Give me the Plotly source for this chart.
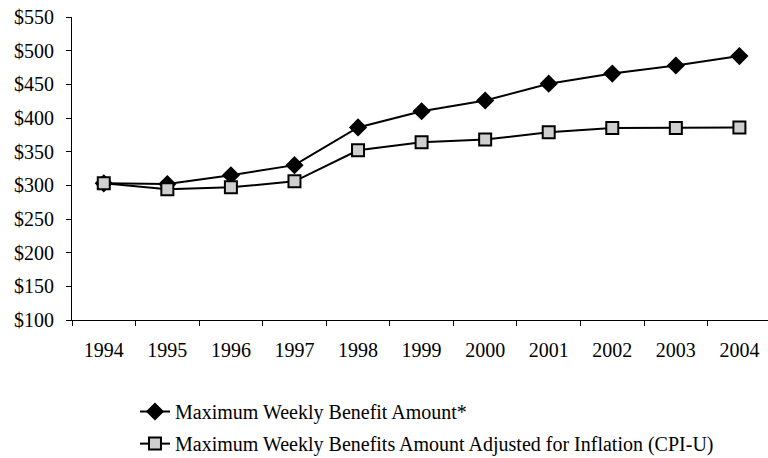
import plotly.graph_objects as go

years = ["1994", "1995", "1996", "1997", "1998", "1999", "2000", "2001", "2002", "2003", "2004"]
max_benefit = [303, 302, 315, 330, 386, 410, 426, 451, 466, 478, 492]
adjusted_benefit = [303, 294, 297, 306, 352, 364, 368, 379, 385, 385, 386]
y_ticks = [100, 150, 200, 250, 300, 350, 400, 450, 500, 550]
y_labels = ["$" + str(v) for v in y_ticks]

font_family = "Liberation Serif, Times New Roman, serif"
fs = 20

fig = go.Figure()
fig.add_trace(go.Scatter(
    x=years, y=max_benefit, mode="lines+markers",
    name="Maximum Weekly Benefit Amount*",
    line=dict(color="black", width=2),
    marker=dict(symbol="diamond", size=14, color="black", line=dict(color="black", width=0)),
    legend="legend",
))
fig.add_trace(go.Scatter(
    x=years, y=adjusted_benefit, mode="lines+markers",
    name="Maximum Weekly Benefits Amount Adjusted for Inflation (CPI-U)",
    line=dict(color="black", width=2),
    marker=dict(symbol="square", size=12, color="#cfcfcf", line=dict(color="black", width=2)),
    legend="legend2",
))

fig.update_layout(
    width=768, height=458,
    margin=dict(l=72, r=0, t=17, b=138, autoexpand=False),
    plot_bgcolor="white", paper_bgcolor="white",
    font=dict(family=font_family, size=fs, color="black"),
    xaxis=dict(
        type="category", range=[-0.5, 10.45], automargin=False,
        showline=True, linecolor="black", linewidth=1,
        ticks="outside", ticklen=5, tickcolor="black", tickson="boundaries",
        showgrid=False, zeroline=False,
        ticklabelstandoff=12, ticklabeloverflow="allow",
        tickfont=dict(family=font_family, size=fs),
    ),
    yaxis=dict(
        range=[100, 550], tickvals=y_ticks, ticktext=y_labels, automargin=False,
        showline=True, linecolor="black", linewidth=1,
        ticks="outside", ticklen=5, tickcolor="black",
        showgrid=False, zeroline=False,
        ticklabelstandoff=8, ticklabeloverflow="allow",
        tickfont=dict(family=font_family, size=fs),
    ),
    legend=dict(
        x=0.0905, y=-0.302, xanchor="left", yanchor="middle",
        font=dict(family=font_family, size=fs), bgcolor="rgba(0,0,0,0)",
    ),
    legend2=dict(
        x=0.0905, y=-0.408, xanchor="left", yanchor="middle",
        font=dict(family=font_family, size=fs), bgcolor="rgba(0,0,0,0)",
    ),
    showlegend=True,
)

fig.write_html("out.html", config={"displayModeBar": False},
               post_script="document.body.style.margin='0';")
